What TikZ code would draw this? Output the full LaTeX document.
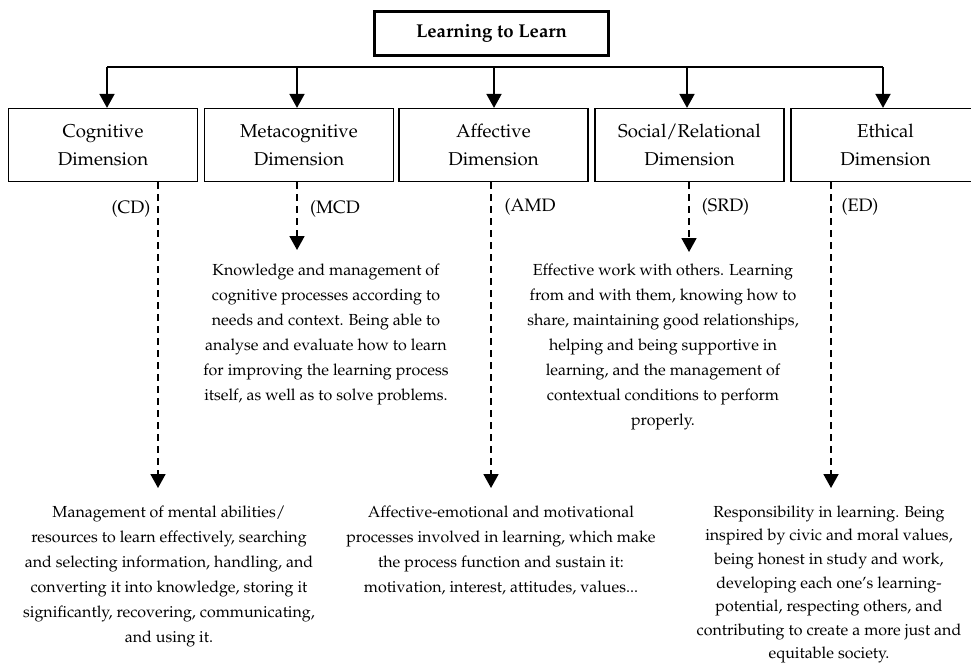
\documentclass[tikz,border=0pt]{standalone}
\usepackage[T1]{fontenc}
\usepackage{mathpazo}
\usetikzlibrary{arrows.meta}
\begin{document}
\begin{tikzpicture}[x=1pt,y=-1pt,
  dimbox/.style={draw,line width=1.2pt,minimum width=189pt,minimum height=73pt,inner sep=0pt,align=center,font=\fontsize{18.6}{28}\selectfont},
  titlebox/.style={draw,line width=3pt,minimum width=234pt,minimum height=44pt,inner sep=0pt,font=\bfseries\fontsize{18.6}{22}\selectfont},
  arr/.style={line width=1.8pt,-{Triangle[width=15pt,length=14pt]}},
  busline/.style={line width=1.2pt},
  darr/.style={line width=1.8pt,dash pattern=on 7pt off 5pt,-{Triangle[width=15pt,length=14pt]}},
  abbr/.style={inner sep=0pt,font=\fontsize{18}{22}\selectfont},
  desc/.style={inner sep=0pt,anchor=north,align=center,font=\fontsize{16}{25}\selectfont}]
\useasboundingbox (0,0) rectangle (971,667);

\node[titlebox] (top) at (491.5,33.5) {Learning to Learn};

\node[dimbox] (b1) at (103,145) {Cognitive\\Dimension};
\node[dimbox] (b2) at (299,145) {Metacognitive\\Dimension};
\node[dimbox] (b3) at (493.5,145) {Affective\\Dimension};
\node[dimbox] (b4) at (689.5,145) {Social/Relational\\Dimension};
\node[dimbox] (b5) at (885.5,145) {Ethical\\Dimension};

\coordinate (a1) at (107,67);
\coordinate (a2) at (297,67);
\coordinate (a3) at (494,67);
\coordinate (a4) at (687,67);
\coordinate (a5) at (883,67);
\draw[busline] (a1) -- (a5);
\draw[arr] (a1) -- (a1 |- b1.north);
\draw[arr] (a2) -- (a2 |- b2.north);
\draw[arr] (a3) -- (a3 |- b3.north);
\draw[arr] (a4) -- (a4 |- b4.north);
\draw[arr] (a5) -- (a5 |- b5.north);

\coordinate (d1) at (158,488);
\coordinate (d2) at (297,250);
\coordinate (d3) at (491,488);
\coordinate (d4) at (689,252);
\coordinate (d5) at (831,488);
\draw[darr] (d1 |- b1.south) -- (d1);
\draw[darr] (d2 |- b2.south) -- (d2);
\draw[darr] (d3 |- b3.south) -- (d3);
\draw[darr] (d4 |- b4.south) -- (d4);
\draw[darr] (d5 |- b5.south) -- (d5);

\node[abbr] (l1) at (131,209) {(CD)};
\node[abbr] (l2) at (335,209) {(MCD};
\node[abbr] (l3) at (530,207) {(AMD};
\node[abbr] (l4) at (725.5,207) {(SRD)};
\node[abbr] (l5) at (860,207) {(ED)};

\node[desc] (t2) at (326,263.5) {Knowledge and management of\\cognitive processes according to\\needs and context. Being able to\\analyse and evaluate how to learn\\for improving the learning process\\itself, as well as to solve problems.};
\node[desc] (t4) at (663,263.5) {Effective work with others. Learning\\from and with them, knowing how to\\share, maintaining good relationships,\\helping and being supportive in\\learning, and the management of\\contextual conditions to perform\\properly.};
\node[desc] (t1) at (169,506) {Management of mental abilities/\\resources to learn effectively, searching\\and selecting information, handling, and\\converting it into knowledge, storing it\\significantly, recovering, communicating,\\and using it.};
\node[desc] (t3) at (501,506) {Affective-emotional and motivational\\processes involved in learning, which make\\the process function and sustain it:\\motivation, interest, attitudes, values...};
\node[desc,font=\fontsize{16}{23.6}\selectfont] (t5) at (829,505.5) {Responsibility in learning. Being\\inspired by civic and moral values,\\being honest in study and work,\\developing each one's learning-\\potential, respecting others, and\\contributing to create a more just and\\equitable society.};
\end{tikzpicture}
\end{document}
